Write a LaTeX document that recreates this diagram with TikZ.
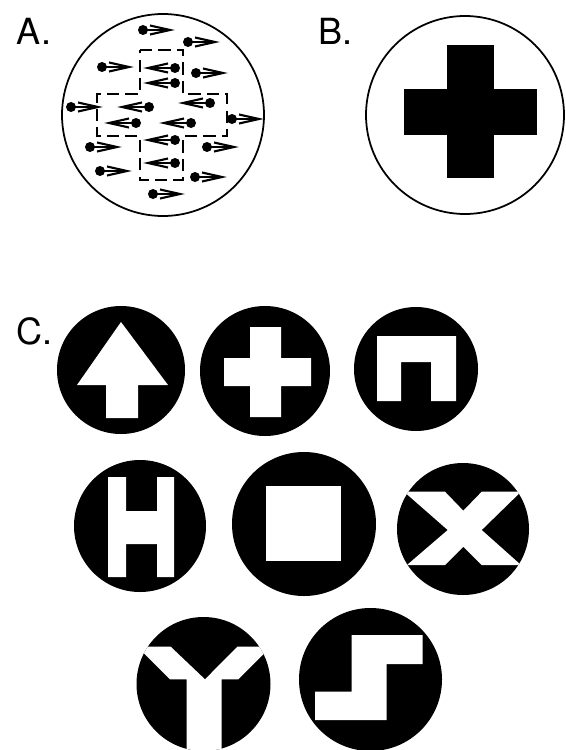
\documentclass[tikz,border=0pt]{standalone}
\usepackage{fontspec}
\setsansfont{TeX Gyre Heros}
\usetikzlibrary{calc}

\begin{document}
\begin{tikzpicture}[x=0.02cm,y=-0.02cm,line width=1pt,
  panellabel/.style={font=\sffamily\fontsize{20.5}{20.5}\selectfont,anchor=base west,inner sep=0pt}]
  \useasboundingbox (0,0) rectangle (565,750);
  \def\dr{5}
  % dot with its arrow pointing right, dot with its arrow pointing left
  \newcommand{\dotright}[2]{\fill (#1,#2) circle (\dr);
    \draw[line width=1.2pt] (#1,#2) -- (#1+27,#2); \draw[line width=1.2pt] (#1+7,#2-4.5) -- (#1+27,#2) -- (#1+7,#2+4.5);}
  \newcommand{\dotleft}[2]{\fill (#1,#2) circle (\dr);
    \draw[line width=1.2pt] (#1,#2) -- (#1-27,#2); \draw[line width=1.2pt] (#1-7,#2-4.5) -- (#1-27,#2) -- (#1-7,#2+4.5);}
  % A: moving dots, the cross region moves the other way.
  \node[panellabel] (labA) at (16,45) {A.};
  \draw (163,115) circle (101);
  \draw[dash pattern=on 7pt off 3.5pt] (140,50) -- (183,50) -- (183,94) -- (227,94) -- (227,136) -- (183,136)
    -- (183,180) -- (140,180) -- (140,136) -- (97,136) -- (97,94) -- (140,94) -- cycle;
  \dotright{143}{30} \dotright{188}{42} \dotright{102}{67} \dotright{196}{73}
  \dotright{71}{107} \dotright{232}{119} \dotright{90}{147} \dotright{207}{147}
  \dotright{100}{171} \dotright{195}{177} \dotright{153}{194}
  \dotleft{175}{68} \dotleft{175}{83} \dotleft{149}{107} \dotleft{210}{103}
  \dotleft{136}{123} \dotleft{191}{123} \dotleft{175}{140} \dotleft{175}{163}
  % B: the cross that is seen.
  \node[panellabel] (labB) at (318,45) {B.};
  \draw (465,115) circle (99);
  \fill (447,45) rectangle (494,178);
  \fill (404,89) rectangle (537,135);
  % C: white shapes in black disks.
  \node[panellabel] (labC) at (16,344) {C.};
  \fill (121,370) circle (64);
  \fill[white] (121,322) -- (168,385) -- (138,385) -- (138,418) -- (106,418) -- (106,385) -- (77,385) -- cycle;
  \fill (265,371) circle (65);
  \fill[white] (250,327) -- (281,327) -- (281,358) -- (311,358) -- (311,386) -- (281,386) -- (281,417)
    -- (250,417) -- (250,386) -- (224,386) -- (224,358) -- (250,358) -- cycle;
  \fill (416,369) circle (62);
  \fill[white] (377,336) -- (456,336) -- (456,401) -- (431,401) -- (431,362) -- (401,362) -- (401,401) -- (377,401) -- cycle;
  \fill (140,526) circle (66);
  \fill[white] (108,477) -- (126,477) -- (126,511) -- (157,511) -- (157,477) -- (174,477) -- (174,577) -- (157,577)
    -- (157,544) -- (126,544) -- (126,577) -- (108,577) -- cycle;
  \fill (304,524) circle (72);
  \fill[white] (266,486) rectangle (341,561);
  \fill (463,529) circle (66);
  \begin{scope}
    \clip (463,529) circle (66);
    \fill[white] (404,491.7) -- (445,491.7) -- (463.3,510.7) -- (481.7,491.7) -- (521,491.7) -- (481.7,530)
      -- (521,565) -- (481.7,565) -- (463.3,546.7) -- (445,565) -- (407,565) -- (447.7,530) -- cycle;
  \end{scope}
  \fill (203.5,684) circle (67);
  \begin{scope}
    \clip (203.5,684) circle (67);
    \fill[white] (137.4,646.7) -- (170.7,646.7) -- (205,679.3) -- (237.3,646.7) -- (271,646.7) -- (238.3,679.3)
      -- (221.7,679.3) -- (221.7,760) -- (186.7,760) -- (186.7,679.3) -- (170,679.3) -- cycle;
  \end{scope}
  \fill (370.5,679.5) circle (71.5);
  \fill[white] (351.7,635) -- (422.7,635) -- (422.7,664) -- (386.7,664) -- (386.7,720) -- (315,720)
    -- (315,691.7) -- (351.7,691.7) -- cycle;
\end{tikzpicture}
\end{document}
